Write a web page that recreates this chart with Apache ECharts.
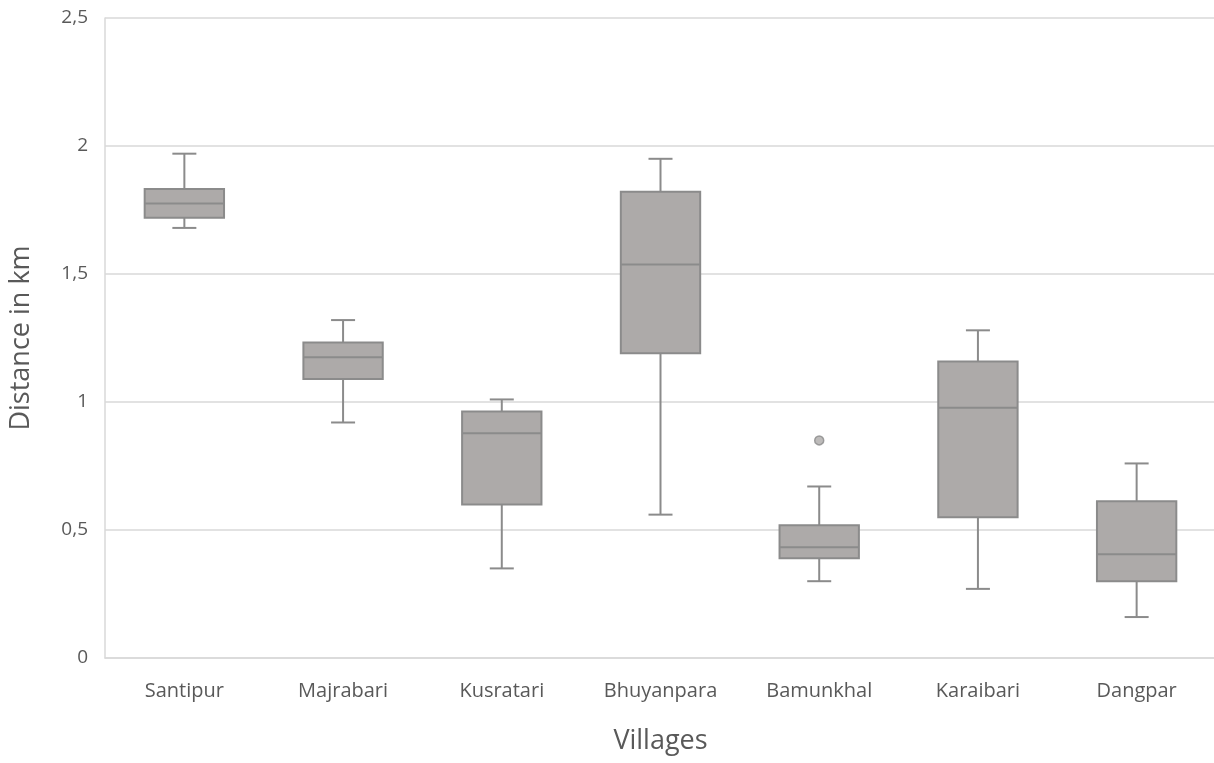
<!DOCTYPE html>
<html><head><meta charset="utf-8">
<script src="https://cdn.jsdelivr.net/npm/echarts@6/dist/echarts.min.js"></script>
<style>html,body{margin:0;padding:0;background:#fff}#c{width:1214px;height:763px}</style>
</head><body><div id="c"></div>
<script>
const categories = ['Santipur','Majrabari','Kusratari','Bhuyanpara','Bamunkhal','Karaibari','Dangpar'];
const mins    = [1.68, 0.92, 0.35, 0.56, 0.30, 0.27, 0.16];
const q1s     = [1.72, 1.09, 0.60, 1.19, 0.39, 0.55, 0.30];
const medians = [1.775,1.175,0.878,1.537,0.433,0.978,0.405];
const q3s     = [1.832,1.232,0.963,1.821,0.519,1.158,0.612];
const maxs    = [1.97, 1.32, 1.01, 1.95, 0.67, 1.28, 0.76];
const outliers = [['Bamunkhal', 0.85]];
const yTicks = [0, 0.5, 1, 1.5, 2, 2.5];

const boxData = categories.map((c,i)=>[i, mins[i], q1s[i], medians[i], q3s[i], maxs[i]]);
const stroke = '#8b8b8b', fill = '#adaaa9';
const font = 'Open Sans';

const chart = echarts.init(document.getElementById('c'));
chart.setOption({
  animation:false,
  grid:{left:105,right:-2,top:18,bottom:105,outerBoundsMode:'none',containLabel:false},
  xAxis:{type:'category',data:categories,
    axisLine:{lineStyle:{color:'#d9d9d9',width:1.5}},axisTick:{show:false},
    axisLabel:{color:'#595959',fontFamily:font,fontSize:20,margin:23},
    name:'Villages',nameLocation:'middle',nameGap:70,
    nameTextStyle:{color:'#595959',fontFamily:font,fontSize:27}},
  yAxis:{type:'value',min:yTicks[0],max:yTicks[yTicks.length-1],interval:0.5,
    axisLine:{show:true,lineStyle:{color:'#d9d9d9',width:1.5}},axisTick:{show:false},
    splitLine:{lineStyle:{color:'#d9d9d9',width:1.5}},
    axisLabel:{color:'#595959',fontFamily:font,fontSize:19,margin:17,
      formatter:v=>String(v).replace('.',',')},
    name:'Distance in km',nameLocation:'middle',nameGap:70,
    nameTextStyle:{color:'#595959',fontFamily:font,fontSize:27}},
  series:[{
    type:'custom',
    data:boxData,
    encode:{x:0,y:[1,2,3,4,5]},
    renderItem:function(params,api){
      const x = api.value(0);
      const pMin = api.coord([x, api.value(1)]);
      const pQ1 = api.coord([x, api.value(2)]);
      const pMed = api.coord([x, api.value(3)]);
      const pQ3 = api.coord([x, api.value(4)]);
      const pMax = api.coord([x, api.value(5)]);
      const bw = api.size([1,0])[0]*0.5;
      const cw = 24;
      const cx = pMed[0];
      const ls = {stroke:stroke,lineWidth:2};
      return {type:'group',children:[
        {type:'line',shape:{x1:cx,y1:pMax[1],x2:cx,y2:pQ3[1]},style:ls},
        {type:'line',shape:{x1:cx,y1:pQ1[1],x2:cx,y2:pMin[1]},style:ls},
        {type:'line',shape:{x1:cx-cw/2,y1:pMax[1],x2:cx+cw/2,y2:pMax[1]},style:ls},
        {type:'line',shape:{x1:cx-cw/2,y1:pMin[1],x2:cx+cw/2,y2:pMin[1]},style:ls},
        {type:'rect',shape:{x:cx-bw/2,y:pQ3[1],width:bw,height:pQ1[1]-pQ3[1]},style:{fill:fill,stroke:stroke,lineWidth:2}},
        {type:'line',shape:{x1:cx-bw/2,y1:pMed[1],x2:cx+bw/2,y2:pMed[1]},style:ls}
      ]};
    }
  },{
    type:'scatter',data:outliers,symbolSize:9,
    itemStyle:{color:fill,borderColor:stroke,borderWidth:1.5}
  }]
});
</script></body></html>
